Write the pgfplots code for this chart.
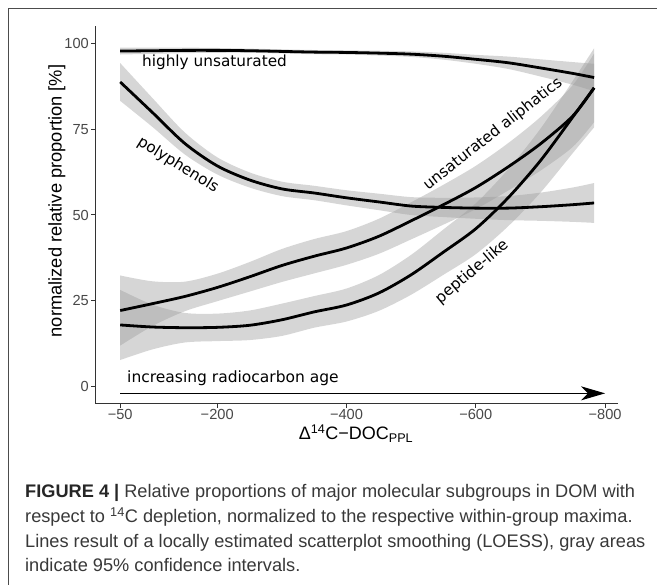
\documentclass[border=0pt]{standalone}
\usepackage{pgfplots}
\pgfplotsset{compat=1.18}
\usepackage{pgfplotstable}
\usepgfplotslibrary{fillbetween}
\usetikzlibrary{arrows.meta}
\usepackage{fontspec}
\setmainfont{Liberation Sans}
\newfontfamily\dejavu{DejaVu Sans}
\definecolor{bandgray}{RGB}{153,153,153}

\pgfplotstableread{
x y lo hi
-50 97.7 96.7 98.7
-100 97.8 96.9 98.7
-150 97.9 97.1 98.7
-200 97.9 97.2 98.6
-250 97.8 97.2 98.4
-300 97.6 97.0 98.2
-350 97.4 96.8 98.0
-400 97.3 96.7 97.9
-450 97.1 96.4 97.8
-500 96.8 96.0 97.6
-550 96.2 95.2 97.2
-600 95.3 94.0 96.6
-650 94.3 92.5 96.1
-700 92.8 90.3 95.3
-750 91.2 87.9 94.5
-783 90.0 86.0 94.0
}\hutab

\pgfplotstableread{
x y lo hi
-50 88.7 83.2 94.2
-100 79.8 75.6 84.0
-150 70.8 67.6 74.0
-200 64.3 61.8 66.8
-250 60.2 58.0 62.4
-300 57.6 55.5 59.7
-350 56.4 54.3 58.5
-400 55.0 52.8 57.2
-450 53.8 51.4 56.2
-500 52.6 50.0 55.2
-550 52.2 49.4 55.0
-600 52.0 48.9 55.1
-650 52.0 48.5 55.5
-700 52.4 48.3 56.5
-750 53.0 48.0 58.0
-783 53.5 47.7 59.3
}\pptab

\pgfplotstableread{
x y lo hi
-50 22.2 12.0 32.4
-100 24.2 17.7 30.7
-150 26.3 22.0 30.6
-200 28.9 24.9 32.9
-250 32.0 27.7 36.3
-300 35.3 30.5 40.1
-350 38.0 33.0 43.0
-400 40.4 35.5 45.3
-450 43.8 38.7 48.9
-500 48.3 42.9 53.7
-550 53.0 47.2 58.8
-600 58.0 51.7 64.3
-650 64.0 57.1 70.9
-700 70.7 62.9 78.5
-750 78.8 69.8 87.8
-783 87.0 77.0 97.0
}\uatab

\pgfplotstableread{
x y lo hi
-50 18.0 7.8 28.2
-100 17.4 10.9 23.9
-150 17.2 12.9 21.5
-200 17.3 13.3 21.3
-250 17.9 13.6 22.2
-300 19.5 14.8 24.2
-350 21.8 17.2 26.4
-400 23.8 19.0 28.6
-450 27.3 22.1 32.5
-500 32.6 26.8 38.4
-550 39.2 32.6 45.8
-600 46.0 38.6 53.4
-650 55.0 46.7 63.3
-700 65.8 56.5 75.1
-750 78.5 68.0 89.0
-783 87.0 75.5 98.5
}\pltab

\begin{document}
\begin{tikzpicture}[x=1bp,y=1bp]
\begin{axis}[
  at={(95bp,181bp)}, anchor=south west,
  scale only axis, width=523bp, height=378bp,
  x dir=reverse,
  xmin=-820, xmax=-11, ymin=-5, ymax=105,
  axis x line*=bottom, axis y line*=left,
  axis line style={black!80, line width=1bp},
  xtick={-50,-200,-400,-600,-800},
  xticklabels={−50,−200,−400,−600,−800},
  ytick={0,25,50,75,100},
  tick align=outside, major tick length=4bp,
  tick style={black!80, line width=1bp},
  tick label style={font=\fontsize{14.6bp}{16bp}\selectfont, text=black!72},
  /pgf/number format/assume math mode=true,
  xticklabel style={inner sep=1.5bp},
  yticklabel style={inner sep=2bp},
]
% highly unsaturated
\addplot[draw=none, name path=huhi, smooth, forget plot] table[x=x,y=hi]{\hutab};
\addplot[draw=none, name path=hulo, smooth, forget plot] table[x=x,y=lo]{\hutab};
\addplot[fill=bandgray, fill opacity=0.4, draw=none, forget plot] fill between[of=huhi and hulo];
\addplot[black, line width=2.8bp, smooth] table[x=x,y=y]{\hutab};
% polyphenols
\addplot[draw=none, name path=pphi, smooth, forget plot] table[x=x,y=hi]{\pptab};
\addplot[draw=none, name path=pplo, smooth, forget plot] table[x=x,y=lo]{\pptab};
\addplot[fill=bandgray, fill opacity=0.4, draw=none, forget plot] fill between[of=pphi and pplo];
\addplot[black, line width=2.8bp, smooth] table[x=x,y=y]{\pptab};
% unsaturated aliphatics
\addplot[draw=none, name path=uahi, smooth, forget plot] table[x=x,y=hi]{\uatab};
\addplot[draw=none, name path=ualo, smooth, forget plot] table[x=x,y=lo]{\uatab};
\addplot[fill=bandgray, fill opacity=0.4, draw=none, forget plot] fill between[of=uahi and ualo];
\addplot[black, line width=2.8bp, smooth] table[x=x,y=y]{\uatab};
% peptide-like
\addplot[draw=none, name path=plhi, smooth, forget plot] table[x=x,y=hi]{\pltab};
\addplot[draw=none, name path=pllo, smooth, forget plot] table[x=x,y=lo]{\pltab};
\addplot[fill=bandgray, fill opacity=0.4, draw=none, forget plot] fill between[of=plhi and pllo];
\addplot[black, line width=2.8bp, smooth] table[x=x,y=y]{\pltab};
% arrow
\addplot[black, line width=1.3bp, -{Stealth[length=24bp, width=14bp, inset=7bp]}] coordinates {(-50,-1.9) (-800,-1.9)};
\end{axis}

% in-plot labels
\node[anchor=base, inner sep=0, font=\dejavu\fontsize{15.3bp}{17bp}\selectfont] at (214.5,518) {highly unsaturated};
\node[rotate=-32, inner sep=0, font=\dejavu\fontsize{15.3bp}{17bp}\selectfont] at (178,420) {polyphenols};
\node[rotate=38, inner sep=0, font=\dejavu\fontsize{15.3bp}{17bp}\selectfont] at (493,451) {unsaturated aliphatics};
\node[rotate=40, inner sep=0, font=\dejavu\fontsize{15.3bp}{17bp}\selectfont] at (472,313) {peptide-like};
\node[anchor=base west, inner sep=0, font=\dejavu\fontsize{15.5bp}{17bp}\selectfont] at (127,202) {increasing radiocarbon age};

% axis titles
\node[rotate=90, inner sep=0, font=\fontsize{18.3bp}{20bp}\selectfont] at (57,384) {normalized relative proportion [\%]};
\node[anchor=base, inner sep=0, font=\fontsize{18bp}{20bp}\selectfont] at (356,145) {Δ\textsuperscript{14}C−DOC\textsubscript{PPL}};

% caption
\begin{scope}[every node/.style={anchor=base west, inner sep=0, font=\fontsize{18.2bp}{22bp}\selectfont, text=black!78}]
\node at (25,87) {\textbf{\color{black!85}FIGURE 4 |} Relative proportions of major molecular subgroups in DOM with};
\node at (25,62) {respect to \textsuperscript{14}C depletion, normalized to the respective within-group maxima.};
\node at (25,37) {Lines result of a locally estimated scatterplot smoothing (LOESS), gray areas};
\node at (25,13) {indicate 95\% confidence intervals.};
\end{scope}

% frame
\draw[black!70, line width=1.4bp] (8.5,-2) -- (8.5,576.5) -- (660,576.5);
\pgfresetboundingbox
\useasboundingbox (0,0) rectangle (657,585);
\end{tikzpicture}
\end{document}
